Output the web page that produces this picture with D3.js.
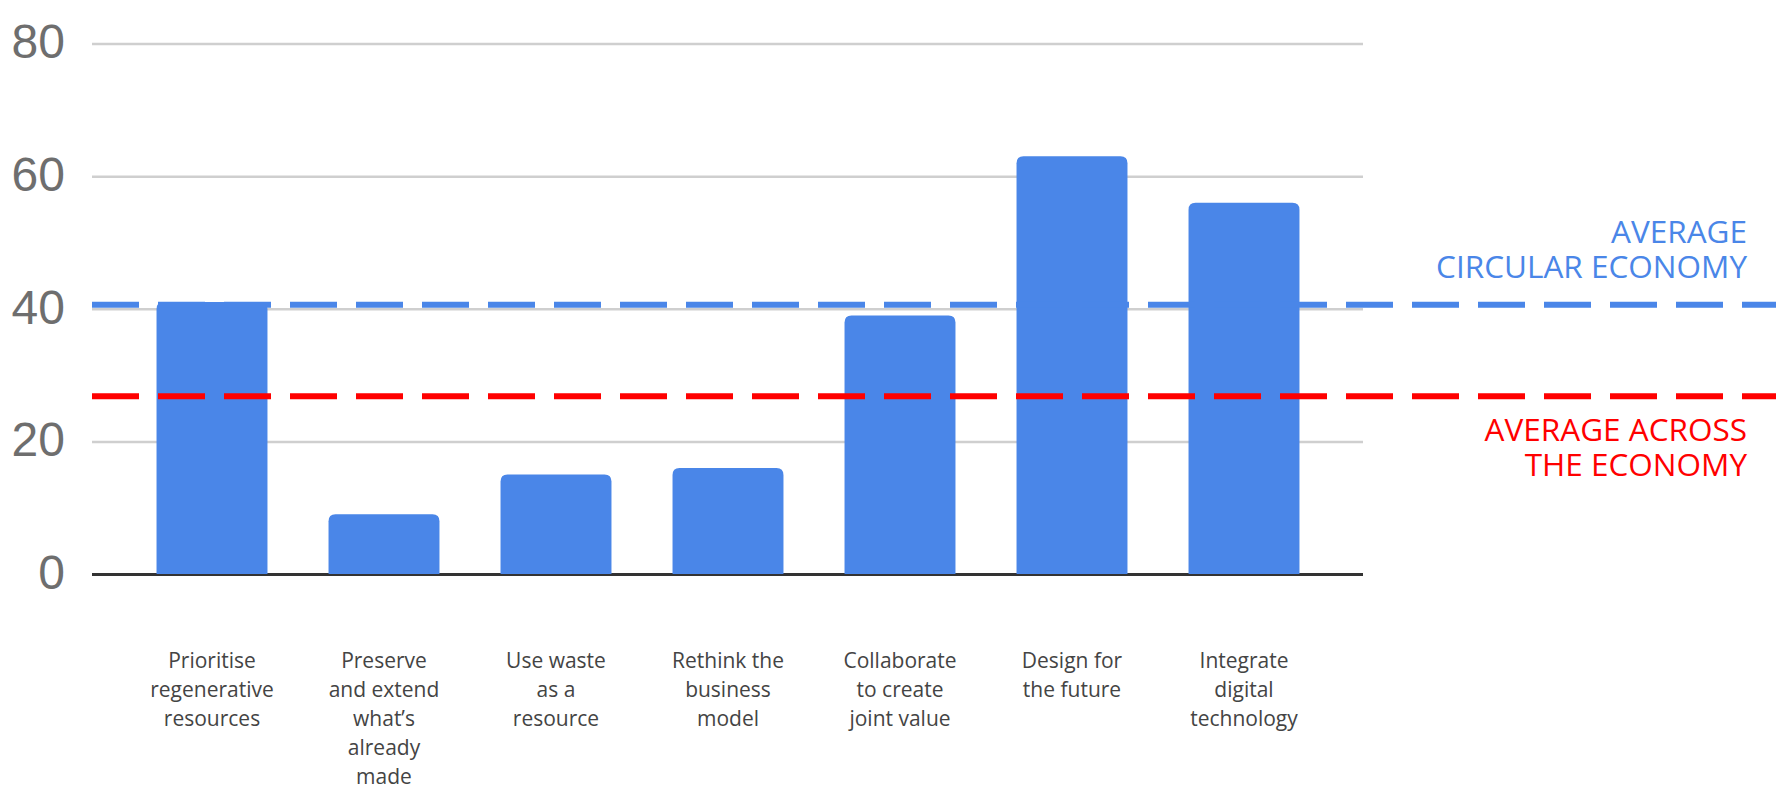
<!DOCTYPE html>
<html>
<head>
<meta charset="utf-8">
<script src="https://cdn.jsdelivr.net/npm/d3@7"></script>
<style>
  body { margin: 0; background: #fff; }
  svg { display: block; }
</style>
</head>
<body>
<div id="chart"></div>
<script>
// values
const categories = [
  ['Prioritise', 'regenerative', 'resources'],
  ['Preserve', 'and extend', 'what\u2019s', 'already', 'made'],
  ['Use waste', 'as a', 'resource'],
  ['Rethink the', 'business', 'model'],
  ['Collaborate', 'to create', 'joint value'],
  ['Design for', 'the future'],
  ['Integrate', 'digital', 'technology']
];
const scores = [41, 9, 15, 16, 39, 63, 56];
const yTicks = [0, 20, 40, 60, 80];
const avgValues = [40.6, 26.8];
const avgLabels = [
  ['AVERAGE', 'CIRCULAR ECONOMY'],
  ['AVERAGE ACROSS', 'THE ECONOMY']
];

const width = 1776;
const height = 795;
const plot = { left: 92, right: 1363, top: 43.5, bottom: 574 };
const barBlue = '#4a86e8';
const avgColors = [barBlue, '#ff0000'];

const svg = d3.select('#chart')
  .append('svg')
  .attr('width', width)
  .attr('height', height);

const xScale = d3.scaleBand()
  .domain(d3.range(categories.length))
  .range([126, 1330])
  .paddingInner(0.355)
  .paddingOuter(0.1775);

const yScale = d3.scaleLinear()
  .domain([0, 80])
  .range([plot.bottom, plot.top]);

// gridlines + tick labels
const yAxis = svg.append('g')
  .attr('transform', `translate(${plot.left}, 0)`)
  .call(d3.axisLeft(yScale)
    .tickValues(yTicks)
    .tickSize(-(plot.right - plot.left))
    .tickPadding(27));

yAxis.select('.domain').remove();
yAxis.selectAll('.tick line')
  .attr('stroke', (d) => d === 0 ? '#333' : '#cfcfcf')
  .attr('stroke-width', (d) => d === 0 ? 3 : 2.5);
yAxis.selectAll('.tick text')
  .attr('fill', '#6e6e6e')
  .attr('font-family', 'Arial, "Liberation Sans", sans-serif')
  .attr('font-size', 48)
  .attr('dy', '0.3em');

// bars with rounded tops
function barPath(x, y, w, h, r) {
  r = Math.min(r, h, w / 2);
  return `M${x},${y + h}V${y + r}Q${x},${y} ${x + r},${y}H${x + w - r}Q${x + w},${y} ${x + w},${y + r}V${y + h}Z`;
}

svg.append('g')
  .selectAll('path')
  .data(scores)
  .join('path')
  .attr('fill', barBlue)
  .attr('d', (d, i) => barPath(
    xScale(i), yScale(d), xScale.bandwidth(), yScale(0) - yScale(d), 7));

// category labels
const labels = svg.append('g')
  .attr('font-family', '"Open Sans", sans-serif')
  .attr('font-size', 21)
  .attr('fill', '#444')
  .attr('text-anchor', 'middle');

labels.selectAll('text')
  .data(categories)
  .join('text')
  .attr('x', (d, i) => xScale(i) + xScale.bandwidth() / 2)
  .attr('y', 668)
  .selectAll('tspan')
  .data((d) => d)
  .join('tspan')
  .attr('x', function () { return this.parentNode.getAttribute('x'); })
  .attr('dy', (d, j) => j === 0 ? 0 : 29)
  .text((d) => d);

// average lines
const avg = svg.append('g');

avg.selectAll('line')
  .data(avgValues)
  .join('line')
  .attr('x1', plot.left)
  .attr('x2', width)
  .attr('y1', (d) => yScale(d))
  .attr('y2', (d) => yScale(d))
  .attr('stroke', (d, i) => avgColors[i])
  .attr('stroke-width', 6)
  .attr('stroke-dasharray', '47,19');

// blue label sits above its line, red one below
const labelOffsets = [[-62, -27], [45, 80]];

avg.selectAll('text')
  .data(avgLabels)
  .join('text')
  .attr('font-family', '"Open Sans", sans-serif')
  .attr('font-size', 31.5)
  .attr('fill', (d, i) => avgColors[i])
  .attr('text-anchor', 'end')
  .each(function (lines, i) {
    d3.select(this).selectAll('tspan')
      .data(lines)
      .join('tspan')
      .attr('x', 1747)
      .attr('y', (d, j) => yScale(avgValues[i]) + labelOffsets[i][j])
      .text((d) => d);
  });
</script>
</body>
</html>
